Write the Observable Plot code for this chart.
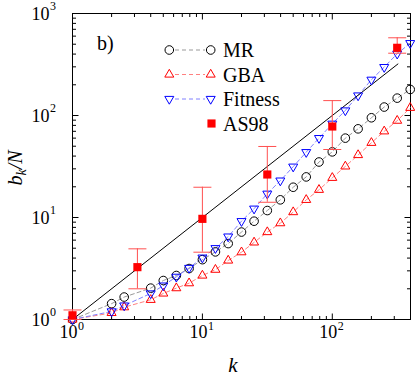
<!DOCTYPE html>
<html><head><meta charset="utf-8">
<script src="https://cdn.jsdelivr.net/npm/d3@7"></script>
<script src="https://cdn.jsdelivr.net/npm/@observablehq/plot@0.6"></script>
<style>body{margin:0;background:#fff} svg{display:block}</style>
</head><body><div id="chart"></div>
<script>
// ---- data ----
const kValues      = [1, 2, 2.5, 4, 5, 6.3, 7.9, 10, 12.6, 15.8, 20, 25, 31.6, 39.8, 50, 63, 79, 100, 126, 158, 200, 251, 316, 398];
const mrValues     = [1.0, 1.43, 1.66, 2.03, 2.41, 2.70, 3.16, 3.86, 4.6, 5.55, 7.2, 9.2, 11.7, 14.9, 19.8, 25, 35, 44, 60, 74, 95, 121, 148, 180];
const gbaValues    = [1.0, 1.16, 1.32, 1.56, 1.8, 2.03, 2.27, 2.7, 3.08, 3.79, 4.57, 5.7, 7.2, 8.8, 11.3, 14.9, 18.7, 24.5, 31.7, 41, 54, 70, 89, 119];
const fitnessValues= [1.0, 1.2, 1.37, 1.8, 2.15, 2.62, 3.2, 4.04, 5.0, 6.5, 9.2, 12.2, 17.1, 23, 31.5, 43.7, 60, 83, 112, 157, 224, 298, 403, 512];
const as98K        = [1, 3.16, 10, 31.6, 100, 316];
const as98Values   = [1.1, 3.26, 9.7, 26.4, 78, 461];
const as98Low      = [1.0, 2.0, 4.57, 14.1, 46.4, 408];
const as98High     = [1.24, 4.93, 19.8, 49.7, 140, 578];
const refLineK     = [1, 320];          // b = k reference line
const xMajorTicks  = [1, 10, 100];
const xTickExp     = ["0", "1", "2"];
const yMajorTicks  = [1, 10, 100, 1000];
const yTickExp     = ["0", "1", "2", "3"];
const legendLabels = ["MR", "GBA", "Fitness", "AS98"];

const minorTicks = (max) => [1, 10, 100].flatMap(d => [2,3,4,5,6,7,8,9].map(m => d*m)).filter(v => v <= max);
const xMinor = minorTicks(400), yMinor = minorTicks(1000);

const mr = kValues.map((k,i) => ({k, b: mrValues[i]}));
const gba = kValues.map((k,i) => ({k, b: gbaValues[i]}));
const fit = kValues.map((k,i) => ({k, b: fitnessValues[i]}));
const as98 = as98K.map((k,i) => ({k, b: as98Values[i], lo: as98Low[i], hi: as98High[i]}));
const refLine = refLineK.map(k => ({k, b: k}));
const xLab = xMajorTicks.map((v,i) => ({v, e: xTickExp[i]}));
const yLab = yMajorTicks.map((v,i) => ({v, e: yTickExp[i]}));

const FONT = '"Liberation Serif", "DejaVu Serif", serif';
const cap = {draw(ctx){ ctx.moveTo(-9,0); ctx.lineTo(9,0); }};
// inward tick shapes (pixel lengths)
const tickUp    = (l) => ({draw(ctx){ ctx.moveTo(0,0); ctx.lineTo(0,-l); }});
const tickDown  = (l) => ({draw(ctx){ ctx.moveTo(0,0); ctx.lineTo(0,l); }});
const tickRight = (l) => ({draw(ctx){ ctx.moveTo(0,0); ctx.lineTo(l,0); }});
const tickLeft  = (l) => ({draw(ctx){ ctx.moveTo(0,0); ctx.lineTo(-l,0); }});
const R = 4.3;
const errColor = "#ff5050";
const tk = {stroke: "black", fill: "none", strokeWidth: 1};

const plot = Plot.plot({
  width: 415, height: 376,
  marginLeft: 72, marginRight: 5, marginTop: 13, marginBottom: 57,
  style: {fontFamily: FONT, background: "white", color: "black"},
  x: {type: "log", domain: [1, 400], axis: null},
  y: {type: "log", domain: [1, 1000], axis: null},
  marks: [
    // inward ticks on all four sides
    Plot.dot(xMajorTicks, {x: d => d, frameAnchor: "bottom", symbol: tickUp(6), ...tk}),
    Plot.dot(xMajorTicks, {x: d => d, frameAnchor: "top", symbol: tickDown(6), ...tk}),
    Plot.dot(xMinor, {x: d => d, frameAnchor: "bottom", symbol: tickUp(3.5), ...tk}),
    Plot.dot(xMinor, {x: d => d, frameAnchor: "top", symbol: tickDown(3.5), ...tk}),
    Plot.dot(yMajorTicks, {y: d => d, frameAnchor: "left", symbol: tickRight(6), ...tk}),
    Plot.dot(yMajorTicks, {y: d => d, frameAnchor: "right", symbol: tickLeft(6), ...tk}),
    Plot.dot(yMinor, {y: d => d, frameAnchor: "left", symbol: tickRight(3.5), ...tk}),
    Plot.dot(yMinor, {y: d => d, frameAnchor: "right", symbol: tickLeft(3.5), ...tk}),
    Plot.frame({stroke: "black", strokeWidth: 1}),
    // tick labels
    Plot.text(xLab, {x: "v", frameAnchor: "bottom", text: () => "10", textAnchor: "end", dx: 5, dy: 18.5, fontSize: 18, fontFamily: FONT, fill: "black"}),
    Plot.text(xLab, {x: "v", frameAnchor: "bottom", text: "e", textAnchor: "start", dx: 5.5, dy: 10, fontSize: 12, fontFamily: FONT, fill: "black"}),
    Plot.text(yLab, {y: "v", frameAnchor: "left", text: () => "10", textAnchor: "end", dx: -23, dy: 0.5, fontSize: 18, fontFamily: FONT, fill: "black"}),
    Plot.text(yLab, {y: "v", frameAnchor: "left", text: "e", textAnchor: "start", dx: -22.5, dy: -7.5, fontSize: 12, fontFamily: FONT, fill: "black"}),
    // series lines
    Plot.line(mr, {x: "k", y: "b", stroke: "#999", strokeDasharray: "4,3", strokeWidth: 1}),
    Plot.line(gba, {x: "k", y: "b", stroke: "#ff8080", strokeDasharray: "4,3", strokeWidth: 1}),
    Plot.line(fit, {x: "k", y: "b", stroke: "#8080ff", strokeDasharray: "4,3", strokeWidth: 1}),
    Plot.line(refLine, {x: "k", y: "b", stroke: "black", strokeWidth: 1}),
    // markers
    Plot.dot(mr, {x: "k", y: "b", symbol: "circle", r: R, stroke: "black", fill: "none", strokeWidth: 1}),
    Plot.dot(gba, {x: "k", y: "b", symbol: "triangle2", r: R, stroke: "red", fill: "none", strokeWidth: 1}),
    Plot.dot(fit, {x: "k", y: "b", symbol: "triangle2", rotate: 180, r: R, stroke: "blue", fill: "none", strokeWidth: 1}),
    // AS98 with error bars
    Plot.ruleX(as98, {x: "k", y1: "lo", y2: "hi", stroke: errColor, strokeWidth: 1}),
    Plot.dot(as98, {x: "k", y: "lo", symbol: cap, stroke: errColor, fill: "none", strokeWidth: 1}),
    Plot.dot(as98, {x: "k", y: "hi", symbol: cap, stroke: errColor, fill: "none", strokeWidth: 1}),
    Plot.dot(as98, {x: "k", y: "b", symbol: "square", r: 4.6, fill: "red", stroke: "none"})
  ]
});
document.getElementById("chart").appendChild(plot);

// ---- annotations & legend (layout only) ----
const svg = d3.select(plot);
const txt = (x, y) => svg.append("text").attr("x", x).attr("y", y).attr("text-anchor", "start")
   .attr("font-family", FONT).attr("fill", "black");
txt(97, 50).attr("font-size", 20).text("b)");
txt(233, 371.5).attr("text-anchor", "middle").attr("font-size", 21).attr("font-style", "italic").text("k");
const yl = svg.append("text").attr("transform", "translate(22,168) rotate(-90)").attr("text-anchor", "middle")
   .attr("font-family", FONT).attr("font-size", 20).attr("font-style", "italic").attr("fill", "black");
yl.append("tspan").text("b");
yl.append("tspan").attr("font-size", 14).attr("dy", 4).text("k");
yl.append("tspan").attr("dy", -4).text("/N");

const legendRows = [50, 74.5, 99, 123.5];
const lineColors = ["#999", "#ff8080", "#8080ff", null];
const sym = (type, r) => d3.symbol().type(type).size(Math.PI * r * r)();
const g = svg.append("g").attr("fill", "none");
legendLabels.forEach((lab, i) => {
  const y = legendRows[i];
  if (lineColors[i]) {
    g.append("line").attr("x1", 175).attr("x2", 205).attr("y1", y).attr("y2", y)
     .attr("stroke", lineColors[i]).attr("stroke-dasharray", "4,3");
  }
  const xs = i < 3 ? [169.3, 210.7] : [211.5];
  xs.forEach(x => {
    let p;
    if (i === 0) p = g.append("path").attr("d", sym(d3.symbolCircle, R)).attr("stroke", "black");
    if (i === 1) p = g.append("path").attr("d", sym(d3.symbolTriangle2, R)).attr("stroke", "red");
    if (i === 2) p = g.append("path").attr("d", sym(d3.symbolTriangle2, R)).attr("stroke", "blue");
    if (i === 3) p = g.append("path").attr("d", sym(d3.symbolSquare, 4.6)).attr("fill", "red");
    p.attr("transform", `translate(${x},${y})` + (i === 2 ? " rotate(180)" : ""));
  });
  txt(223, y + 7).attr("font-size", 20).text(lab);
});
</script>
</body></html>
